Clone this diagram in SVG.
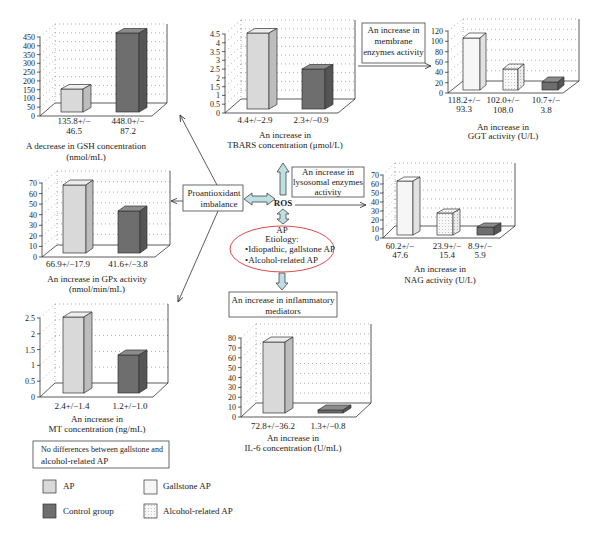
<svg xmlns="http://www.w3.org/2000/svg" width="600" height="539" viewBox="0 0 600 539">
<defs>
<style>
text{font-family:"Liberation Serif","Times New Roman",serif;font-size:9px;fill:#222}
.ax{font-size:8px;text-anchor:end}
.c{text-anchor:middle}
.axis{stroke:#333;stroke-width:0.8;fill:none}
.grid{stroke:#9a9a9a;stroke-width:0.8;stroke-dasharray:1 3;fill:none}
.floor{fill:#fff;stroke:#333;stroke-width:0.8}
.wall{stroke:#333;stroke-width:0.8}
.b{stroke:#333;stroke-width:0.7}
.apF{fill:#d9d9d9}.apT{fill:#ededed}.apS{fill:#bdbdbd}
.ctF{fill:#6e6e6e}.ctT{fill:#8c8c8c}.ctS{fill:#555}
.gsF{fill:#f6f6f6}.gsT{fill:#fff}.gsS{fill:#e2e2e2}
.alF{fill:url(#dots)}.alS{fill:url(#dots2)}
.box{fill:#fff;stroke:#444;stroke-width:0.8}
.line{stroke:#333;stroke-width:0.8;fill:none;marker-end:url(#oa)}
.blk{fill:#bfe0e2;stroke:#444;stroke-width:0.8}
</style>
<pattern id="dots" width="3" height="3" patternUnits="userSpaceOnUse"><rect width="3" height="3" fill="#f8f8f8"/><rect x="1" y="1" width="1" height="1" fill="#c4c4c4"/></pattern>
<pattern id="dots2" width="3" height="3" patternUnits="userSpaceOnUse"><rect width="3" height="3" fill="#ececec"/><rect x="1" y="1" width="1" height="1" fill="#b4b4b4"/></pattern>
<marker id="oa" viewBox="0 0 10 10" refX="9" refY="5" markerWidth="7" markerHeight="7" markerUnits="userSpaceOnUse" orient="auto"><path d="M0 1L9 5L0 9" fill="none" stroke="#333" stroke-width="1.2"/></marker>
</defs>
<rect width="600" height="539" fill="#fff"/>

<!-- GSH chart -->
<g id="chart-gsh">
<path class="grid" d="M55 24V103M55 94.2H167M55 85.4H167M55 76.7H167M55 67.9H167M55 59.1H167M55 50.3H167M55 41.6H167M55 32.8H167M55 24H167M40 107.2L55 94.2M40 98.4L55 85.4M40 89.7L55 76.7M40 80.9L55 67.9M40 72.1L55 59.1M40 63.3L55 50.3M40 54.6L55 41.6M40 45.8L55 32.8M40 37L55 24"/>
<path class="wall" d="M167 24V103"/>
<polygon class="floor" points="40,116 152,116 167,103 55,103"/>
<path class="axis" d="M40 37V116M37 116H40M37 107.2H40M37 98.4H40M37 89.7H40M37 80.9H40M37 72.1H40M37 63.3H40M37 54.6H40M37 45.8H40M37 37H40"/>
<text class="ax" x="35" y="119">0</text><text class="ax" x="35" y="110.2">50</text><text class="ax" x="35" y="101.4">100</text><text class="ax" x="35" y="92.7">150</text><text class="ax" x="35" y="83.9">200</text><text class="ax" x="35" y="75.1">250</text><text class="ax" x="35" y="66.3">300</text><text class="ax" x="35" y="57.6">350</text><text class="ax" x="35" y="48.8">400</text><text class="ax" x="35" y="40">450</text>
<rect class="b apF" x="61" y="89" width="22" height="23"/><polygon class="b apT" points="61,89 83,89 91,84.5 69,84.5"/><polygon class="b apS" points="83,89 91,84.5 91,107.5 83,112"/>
<rect class="b ctF" x="116" y="33" width="23" height="79"/><polygon class="b ctT" points="116,33 139,33 147,28.5 124,28.5"/><polygon class="b ctS" points="139,33 147,28.5 147,107.5 139,112"/>
<text class="c" x="74" y="124">135.8+/−</text><text class="c" x="74" y="134">46.5</text>
<text class="c" x="128" y="124">448.0+/−</text><text class="c" x="128" y="134">87.2</text>
<text class="c" x="86" y="149">A decrease in GSH concentration</text><text class="c" x="86" y="160">(nmol/mL)</text>
</g>

<!-- TBARS chart -->
<g id="chart-tbars">
<path class="grid" d="M241 20V99M241 90.2H355M241 81.4H355M241 72.7H355M241 63.9H355M241 55.1H355M241 46.3H355M241 37.6H355M241 28.8H355M241 20H355M225 104.2L241 90.2M225 95.4L241 81.4M225 86.7L241 72.7M225 77.9L241 63.9M225 69.1L241 55.1M225 60.3L241 46.3M225 51.6L241 37.6M225 42.8L241 28.8M225 34L241 20"/>
<path class="wall" d="M355 20V99"/>
<polygon class="floor" points="225,113 338,113 355,99 241,99"/>
<path class="axis" d="M225 34V113M222 113H225M222 104.2H225M222 95.4H225M222 86.7H225M222 77.9H225M222 69.1H225M222 60.3H225M222 51.6H225M222 42.8H225M222 34H225"/>
<text class="ax" x="220" y="116">0</text><text class="ax" x="220" y="107.2">0.5</text><text class="ax" x="220" y="98.4">1</text><text class="ax" x="220" y="89.7">1.5</text><text class="ax" x="220" y="80.9">2</text><text class="ax" x="220" y="72.1">2.5</text><text class="ax" x="220" y="63.3">3</text><text class="ax" x="220" y="54.6">3.5</text><text class="ax" x="220" y="45.8">4</text><text class="ax" x="220" y="37">4.5</text>
<rect class="b apF" x="247" y="33" width="22" height="76"/><polygon class="b apT" points="247,33 269,33 277,28.5 255,28.5"/><polygon class="b apS" points="269,33 277,28.5 277,104.5 269,109"/>
<rect class="b ctF" x="302" y="69" width="23" height="40"/><polygon class="b ctT" points="302,69 325,69 333,64.5 310,64.5"/><polygon class="b ctS" points="325,69 333,64.5 333,104.5 325,109"/>
<text class="c" x="255" y="123">4.4+/−2.9</text><text class="c" x="311" y="123">2.3+/−0.9</text>
<text class="c" x="285" y="138">An increase in</text><text class="c" x="285" y="148">TBARS concentration (μmol/L)</text>
</g>

<!-- GGT chart -->
<g id="chart-ggt">
<path class="grid" d="M463 19V81M463 70.7H579M463 60.3H579M463 50H579M463 39.7H579M463 29.3H579M463 19H579M448 82.7L463 70.7M448 72.3L463 60.3M448 62L463 50M448 51.7L463 39.7M448 41.3L463 29.3M448 31L463 19"/>
<path class="wall" d="M579 19V81"/>
<polygon class="floor" points="448,93 563,93 579,81 463,81"/>
<path class="axis" d="M448 31V93M445 93H448M445 82.7H448M445 72.3H448M445 62H448M445 51.7H448M445 41.3H448M445 31H448"/>
<text class="ax" x="443" y="96">0</text><text class="ax" x="443" y="85.7">20</text><text class="ax" x="443" y="75.3">40</text><text class="ax" x="443" y="65">60</text><text class="ax" x="443" y="54.7">80</text><text class="ax" x="443" y="44.3">100</text><text class="ax" x="443" y="34">120</text>
<rect class="b gsF" x="463" y="38" width="17" height="52"/><polygon class="b gsT" points="463,38 480,38 486,33 469,33"/><polygon class="b gsS" points="480,38 486,33 486,85 480,90"/>
<rect class="b alF" x="503" y="69" width="15" height="21"/><polygon class="b alF" points="503,69 518,69 524,64 509,64"/><polygon class="b alS" points="518,69 524,64 524,85 518,90"/>
<rect class="b ctF" x="542" y="82" width="16" height="8"/><polygon class="b ctT" points="542,82 558,82 564,77 548,77"/><polygon class="b ctS" points="558,82 564,77 564,85 558,90"/>
<text class="c" x="464" y="103">118.2+/−</text><text class="c" x="464" y="112">93.3</text>
<text class="c" x="503" y="103">102.0+/−</text><text class="c" x="503" y="113">108.0</text>
<text class="c" x="546" y="103">10.7+/−</text><text class="c" x="546" y="113">3.8</text>
<text class="c" x="503" y="130">An increase in</text><text class="c" x="503" y="139">GGT activity (U/L)</text>
</g>

<!-- NAG chart -->
<g id="chart-nag">
<path class="grid" d="M395 163V226M395 217H515M395 208H515M395 199H515M395 190H515M395 181H515M395 172H515M395 163H515M383 229L395 217M383 220L395 208M383 211L395 199M383 202L395 190M383 193L395 181M383 184L395 172M383 175L395 163"/>
<path class="wall" d="M515 163V226"/>
<polygon class="floor" points="383,238 500,238 515,226 395,226"/>
<path class="axis" d="M383 175V238M380 238H383M380 229H383M380 220H383M380 211H383M380 202H383M380 193H383M380 184H383M380 175H383"/>
<text class="ax" x="379" y="241">0</text><text class="ax" x="379" y="232">10</text><text class="ax" x="379" y="223">20</text><text class="ax" x="379" y="214">30</text><text class="ax" x="379" y="205">40</text><text class="ax" x="379" y="196">50</text><text class="ax" x="379" y="187">60</text><text class="ax" x="379" y="178">70</text>
<rect class="b gsF" x="397" y="181" width="16" height="54"/><polygon class="b gsT" points="397,181 413,181 420,177 404,177"/><polygon class="b gsS" points="413,181 420,177 420,231 413,235"/>
<rect class="b alF" x="437" y="213" width="16" height="22"/><polygon class="b alF" points="437,213 453,213 460,209 444,209"/><polygon class="b alS" points="453,213 460,209 460,231 453,235"/>
<rect class="b ctF" x="477" y="227" width="17" height="8"/><polygon class="b ctT" points="477,227 494,227 501,223 484,223"/><polygon class="b ctS" points="494,227 501,223 501,231 494,235"/>
<text class="c" x="400" y="249">60.2+/−</text><text class="c" x="400" y="258">47.6</text>
<text class="c" x="447" y="249">23.9+/−</text><text class="c" x="447" y="258">15.4</text>
<text class="c" x="480" y="249">8.9+/−</text><text class="c" x="480" y="258">5.9</text>
<text class="c" x="440" y="272">An increase in</text><text class="c" x="440" y="283">NAG activity (U/L)</text>
</g>

<!-- GPx chart -->
<g id="chart-gpx">
<path class="grid" d="M57 171V245M57 234.4H170M57 223.9H170M57 213.3H170M57 202.7H170M57 192.1H170M57 181.6H170M57 171H170M42 246.4L57 234.4M42 235.9L57 223.9M42 225.3L57 213.3M42 214.7L57 202.7M42 204.1L57 192.1M42 193.6L57 181.6M42 183L57 171"/>
<path class="wall" d="M170 171V245"/>
<polygon class="floor" points="42,257 155,257 170,245 57,245"/>
<path class="axis" d="M42 183V257M39 257H42M39 246.4H42M39 235.9H42M39 225.3H42M39 214.7H42M39 204.1H42M39 193.6H42M39 183H42"/>
<text class="ax" x="37" y="260">0</text><text class="ax" x="37" y="249.4">10</text><text class="ax" x="37" y="238.9">20</text><text class="ax" x="37" y="228.3">30</text><text class="ax" x="37" y="217.7">40</text><text class="ax" x="37" y="207.1">50</text><text class="ax" x="37" y="196.6">60</text><text class="ax" x="37" y="186">70</text>
<rect class="b apF" x="63" y="185" width="23" height="68"/><polygon class="b apT" points="63,185 86,185 93,180 70,180"/><polygon class="b apS" points="86,185 93,180 93,248 86,253"/>
<rect class="b ctF" x="118" y="211" width="22" height="42"/><polygon class="b ctT" points="118,211 140,211 147,206 125,206"/><polygon class="b ctS" points="140,211 147,206 147,248 140,253"/>
<text class="c" x="68" y="267">66.9+/−17.9</text><text class="c" x="128" y="267">41.6+/−3.8</text>
<text class="c" x="97" y="282">An increase in GPx activity</text><text class="c" x="97" y="292">(nmol/min/mL)</text>
</g>

<!-- MT chart -->
<g id="chart-mt">
<path class="grid" d="M55 304V383M55 367.2H168M55 351.4H168M55 335.6H168M55 319.8H168M55 304H168M40 381.2L55 367.2M40 365.4L55 351.4M40 349.6L55 335.6M40 333.8L55 319.8M40 318L55 304"/>
<path class="wall" d="M168 304V383"/>
<polygon class="floor" points="40,397 153,397 168,383 55,383"/>
<path class="axis" d="M40 318V397M37 397H40M37 381.2H40M37 365.4H40M37 349.6H40M37 333.8H40M37 318H40"/>
<text class="ax" x="35" y="400">0</text><text class="ax" x="35" y="384.2">0.5</text><text class="ax" x="35" y="368.4">1</text><text class="ax" x="35" y="352.6">1.5</text><text class="ax" x="35" y="336.8">2</text><text class="ax" x="35" y="321">2.5</text>
<rect class="b apF" x="63" y="317" width="21" height="76"/><polygon class="b apT" points="63,317 84,317 92,312 71,312"/><polygon class="b apS" points="84,317 92,312 92,388 84,393"/>
<rect class="b ctF" x="118" y="355" width="21" height="38"/><polygon class="b ctT" points="118,355 139,355 147,350 126,350"/><polygon class="b ctS" points="139,355 147,350 147,388 139,393"/>
<text class="c" x="72" y="409">2.4+/−1.4</text><text class="c" x="130" y="409">1.2+/−1.0</text>
<text class="c" x="97" y="422">An increase in</text><text class="c" x="97" y="432">MT concentration (ng/mL)</text>
</g>

<!-- IL-6 chart -->
<g id="chart-il6">
<path class="grid" d="M256 324V403M256 393.1H371M256 383.3H371M256 373.4H371M256 363.5H371M256 353.6H371M256 343.8H371M256 333.9H371M256 324H371M241 407.1L256 393.1M241 397.3L256 383.3M241 387.4L256 373.4M241 377.5L256 363.5M241 367.6L256 353.6M241 357.8L256 343.8M241 347.9L256 333.9M241 338L256 324"/>
<path class="wall" d="M371 324V403"/>
<polygon class="floor" points="241,417 356,417 371,403 256,403"/>
<path class="axis" d="M241 338V417M238 417H241M238 407.1H241M238 397.3H241M238 387.4H241M238 377.5H241M238 367.6H241M238 357.8H241M238 347.9H241M238 338H241"/>
<text class="ax" x="236" y="420">0</text><text class="ax" x="236" y="410.1">10</text><text class="ax" x="236" y="400.3">20</text><text class="ax" x="236" y="390.4">30</text><text class="ax" x="236" y="380.5">40</text><text class="ax" x="236" y="370.6">50</text><text class="ax" x="236" y="360.8">60</text><text class="ax" x="236" y="350.9">70</text><text class="ax" x="236" y="341">80</text>
<rect class="b apF" x="263" y="342" width="22" height="71"/><polygon class="b apT" points="263,342 285,342 293,337 271,337"/><polygon class="b apS" points="285,342 293,337 293,408 285,413"/>
<rect class="b ctF" x="318" y="410" width="25" height="3"/><polygon class="b ctT" points="318,410 343,410 351,405 326,405"/><polygon class="b ctS" points="343,410 351,405 351,408 343,413"/>
<text class="c" x="273" y="429">72.8+/−36.2</text><text class="c" x="328" y="429">1.3+/−0.8</text>
<text class="c" x="293" y="441">An increase in</text><text class="c" x="293" y="451">IL-6 concentration (U/mL)</text>
</g>

<!-- Connectors -->
<g id="connectors">
<path class="line" d="M358 66H431"/>
<path class="line" d="M183 201H171"/>
<path class="line" d="M217 185L180 115"/>
<path class="line" d="M218 211L178 302"/>
<path class="line" d="M295 205H366"/>
<polygon class="blk" points="244,199 252,193 252,196 267,196 267,193 275,199 267,205 267,202 252,202 252,205"/>
<polygon class="blk" points="283,163 289,172 286,172 286,195 280,195 280,172 277,172"/>
<polygon class="blk" points="283,209 289,214 286,214 286,219 289,219 283,224 277,219 280,219 280,214 277,214"/>
<polygon class="blk" points="279,273 285,273 285,283 288,283 282,290 276,283 279,283"/>
</g>

<!-- Central nodes -->
<g id="node-proantioxidant">
<rect class="box" x="183" y="185" width="60" height="26"/>
<text class="c" x="214" y="196">Proantioxidant</text><text class="c" x="219" y="207">imbalance</text>
</g>
<g id="node-ros"><text x="283" y="206" class="c" style="font-weight:bold">ROS</text></g>
<g id="node-lysosomal">
<rect class="box" x="292" y="167" width="72" height="30"/>
<text class="c" x="328" y="175">An increase in</text><text class="c" x="328" y="185">lysosomal enzymes</text><text class="c" x="328" y="195">activity</text>
</g>
<g id="node-membrane">
<rect class="box" x="362" y="23" width="63" height="40"/>
<text class="c" x="393.5" y="33">An increase in</text><text class="c" x="393.5" y="44">membrane</text><text class="c" x="393.5" y="55">enzymes activity</text>
</g>
<g id="node-ap">
<ellipse cx="282" cy="249" rx="52" ry="23" fill="#fff" stroke="#e04848" stroke-width="1"/>
<text class="c" x="282" y="233">AP</text><text class="c" x="282" y="242">Etiology:</text>
<text class="c" x="290" y="252">•Idiopathic, gallstone AP</text>
<text x="245" y="263">•Alcohol-related AP</text>
</g>
<g id="node-inflammatory">
<rect class="box" x="229" y="292" width="108" height="25"/>
<text class="c" x="283" y="303">An increase in inflammatory</text><text class="c" x="283" y="314">mediators</text>
</g>
<g id="node-note">
<rect class="box" x="33" y="441" width="136" height="27"/>
<text x="41" y="452" textLength="122" lengthAdjust="spacingAndGlyphs">No differences between gallstone and</text><text x="41" y="464">alcohol-related AP</text>
</g>

<!-- Legend -->
<g id="legend">
<rect class="b apF" x="43" y="480" width="13" height="13"/><text x="63" y="489">AP</text>
<rect class="b ctF" x="43" y="504" width="13" height="14"/><text x="63" y="514">Control group</text>
<rect class="b gsF" x="144" y="480" width="13" height="14"/><text x="163" y="489">Gallstone AP</text>
<rect class="b alF" x="144" y="504" width="13" height="14"/><text x="163" y="514">Alcohol-related AP</text>
</g>
</svg>
